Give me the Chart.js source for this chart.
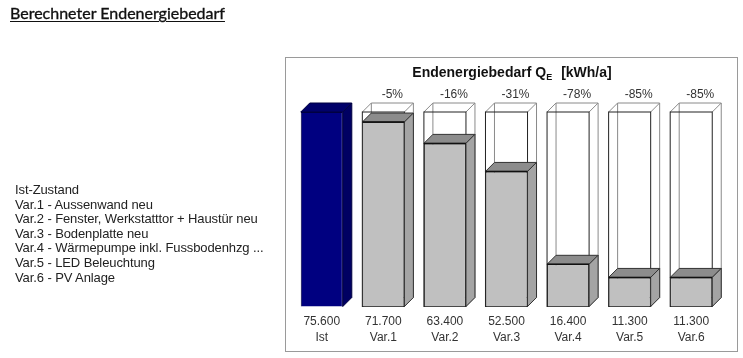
<!DOCTYPE html>
<html><head><meta charset="utf-8">
<script src="https://cdn.jsdelivr.net/npm/chart.js@4"></script>
<style>
html,body{margin:0;padding:0;background:#fff;}
#wrap{position:relative;width:743px;height:358px;overflow:hidden;background:#fff;}
#c{position:absolute;left:0;top:0;}
#hdr{position:absolute;left:10px;top:3px;font:16px Lato,"Open Sans",sans-serif;color:#111;text-decoration:underline;text-underline-offset:2px;white-space:nowrap;-webkit-text-stroke:0.35px #111;}
#list{position:absolute;left:15px;top:183px;font:13px "Liberation Sans",Arial,sans-serif;color:#222;line-height:14.6px;white-space:nowrap;letter-spacing:-0.1px;}
</style></head>
<body>
<div id="wrap">
<canvas id="c" width="743" height="358"></canvas>
<div id="hdr">Berechneter Endenergiebedarf</div>
<div id="list"></div>
</div>
<script>
// ---- data ----
const categories = ['Ist','Var.1','Var.2','Var.3','Var.4','Var.5','Var.6'];
const values = [75600, 71700, 63400, 52500, 16400, 11300, 11300];
const percentLabels = ['', '-5%', '-16%', '-31%', '-78%', '-85%', '-85%'];
const legendLines = [
  'Ist-Zustand',
  'Var.1 - Aussenwand neu',
  'Var.2 - Fenster, Werkstatttor + Haustür neu',
  'Var.3 - Bodenplatte neu',
  'Var.4 - Wärmepumpe inkl. Fussbodenhzg ...',
  'Var.5 - LED Beleuchtung',
  'Var.6 - PV Anlage'
];
const titleMain = 'Endenergiebedarf Q';
const titleSub = 'E';
const titleUnit = '[kWh/a]';

document.getElementById('list').innerHTML = legendLines.map(s => '<div>' + s + '</div>').join('');

function fmt(v){ return String(v).replace(/\B(?=(\d{3})+(?!\d))/g, '.'); }

const DX = 9, DY = 9;
const FRONT = ['#000080','#c0c0c0','#c0c0c0','#c0c0c0','#c0c0c0','#c0c0c0','#c0c0c0'];
const TOP   = ['#00006a','#8c8c8c','#8c8c8c','#8c8c8c','#8c8c8c','#8c8c8c','#8c8c8c'];
const SIDE  = ['#000062','#a4a4a4','#a4a4a4','#a4a4a4','#a4a4a4','#a4a4a4','#a4a4a4'];

function geom(bar){
  const p = bar.getProps(['x','y','width','base'], true);
  return {l: p.x - p.width/2, r: p.x + p.width/2, t: p.y, b: p.base, w: p.width, x: p.x};
}

const threeD = {
  id: 'threeD',
  beforeDraw(chart){
    const ctx = chart.ctx;
    ctx.save();
    ctx.strokeStyle = '#9a9a9a';
    ctx.lineWidth = 1;
    ctx.strokeRect(285.5, 57.5, 452, 294);
    ctx.restore();
  },
  beforeDatasetsDraw(chart){
    const ctx = chart.ctx;
    const meta = chart.getDatasetMeta(0);
    const refY = chart.scales.y.getPixelForValue(values[0]);
    ctx.save();
    ctx.lineWidth = 1;
    meta.data.forEach((bar, i) => {
      if (i === 0) return;
      const g = geom(bar);
      const t = refY, b = g.b;
      ctx.strokeStyle = '#8a8a8a';
      ctx.beginPath();
      ctx.rect(g.l + DX, t - DY, g.w, b - t);
      ctx.moveTo(g.l, t); ctx.lineTo(g.l + DX, t - DY);
      ctx.moveTo(g.r, t); ctx.lineTo(g.r + DX, t - DY);
      ctx.moveTo(g.r, b); ctx.lineTo(g.r + DX, b - DY);
      ctx.stroke();
      ctx.strokeStyle = '#222';
      ctx.strokeRect(g.l, t, g.w, b - t);
    });
    ctx.restore();
  },
  afterDatasetsDraw(chart){
    const ctx = chart.ctx;
    const meta = chart.getDatasetMeta(0);
    const refY = chart.scales.y.getPixelForValue(values[0]);
    ctx.save();
    ctx.lineWidth = 1;
    ctx.lineJoin = 'round';
    meta.data.forEach((bar, i) => {
      const g = geom(bar);
      ctx.strokeStyle = i === 0 ? '#000040' : '#333';
      ctx.fillStyle = TOP[i];
      ctx.beginPath();
      ctx.moveTo(g.l, g.t); ctx.lineTo(g.l + DX, g.t - DY);
      ctx.lineTo(g.r + DX, g.t - DY); ctx.lineTo(g.r, g.t); ctx.closePath();
      ctx.fill(); ctx.stroke();
      ctx.fillStyle = SIDE[i];
      ctx.beginPath();
      ctx.moveTo(g.r, g.t); ctx.lineTo(g.r + DX, g.t - DY);
      ctx.lineTo(g.r + DX, g.b - DY); ctx.lineTo(g.r, g.b); ctx.closePath();
      ctx.fill(); ctx.stroke();
      if (i > 0) {
        ctx.strokeStyle = '#111';
        ctx.lineWidth = 1.5;
        ctx.beginPath(); ctx.moveTo(g.l, g.t); ctx.lineTo(g.r, g.t); ctx.stroke();
        ctx.lineWidth = 1;
      }
      if (percentLabels[i]) {
        ctx.fillStyle = '#333';
        ctx.font = '12px "Liberation Sans", Arial, sans-serif';
        ctx.textAlign = 'center';
        ctx.textBaseline = 'middle';
        ctx.fillText(percentLabels[i], g.x + DX, refY - DY - 8);
      }
    });
    ctx.restore();
  },
  afterDraw(chart){
    const ctx = chart.ctx;
    ctx.save();
    ctx.fillStyle = '#111';
    ctx.textBaseline = 'alphabetic';
    ctx.textAlign = 'left';
    const fMain = 'bold 14px "Liberation Sans", Arial, sans-serif';
    const fSub = 'bold 9px "Liberation Sans", Arial, sans-serif';
    ctx.font = fMain; const w1 = ctx.measureText(titleMain).width;
    const w3 = ctx.measureText(titleUnit).width;
    ctx.font = fSub; const w2 = ctx.measureText(titleSub).width;
    const gap = 9;
    const total = w1 + w2 + gap + w3;
    let x = 512 - total/2;
    const base = 77;
    ctx.font = fMain; ctx.fillText(titleMain, x, base); x += w1;
    ctx.font = fSub; ctx.fillText(titleSub, x, base + 3); x += w2 + gap;
    ctx.font = fMain; ctx.fillText(titleUnit, x, base);
    ctx.restore();
  }
};

new Chart(document.getElementById('c'), {
  type: 'bar',
  data: {
    labels: categories,
    datasets: [{
      data: values,
      backgroundColor: FRONT,
      borderColor: ['#000040','#222','#222','#222','#222','#222','#222'],
      borderWidth: 1,
      barPercentage: 0.683,
      categoryPercentage: 1,
      clip: false
    }]
  },
  options: {
    responsive: false,
    animation: false,
    devicePixelRatio: 1,
    layout: {padding: {left: 291, right: 21, top: 112, bottom: 0}},
    plugins: {legend: {display: false}, tooltip: {enabled: false}, title: {display: false}},
    scales: {
      y: {display: false, min: 0, max: Math.max(...values)},
      x: {
        grid: {display: false, drawTicks: false},
        border: {display: false},
        ticks: {
          padding: 7,
          color: '#333',
          font: {family: '"Liberation Sans", Arial, sans-serif', size: 12, lineHeight: 1.35},
          callback: (v, i) => [fmt(values[i]), categories[i]]
        },
        afterFit: s => { s.height = 51.5; }
      }
    }
  },
  plugins: [threeD]
});
</script>
</body></html>
